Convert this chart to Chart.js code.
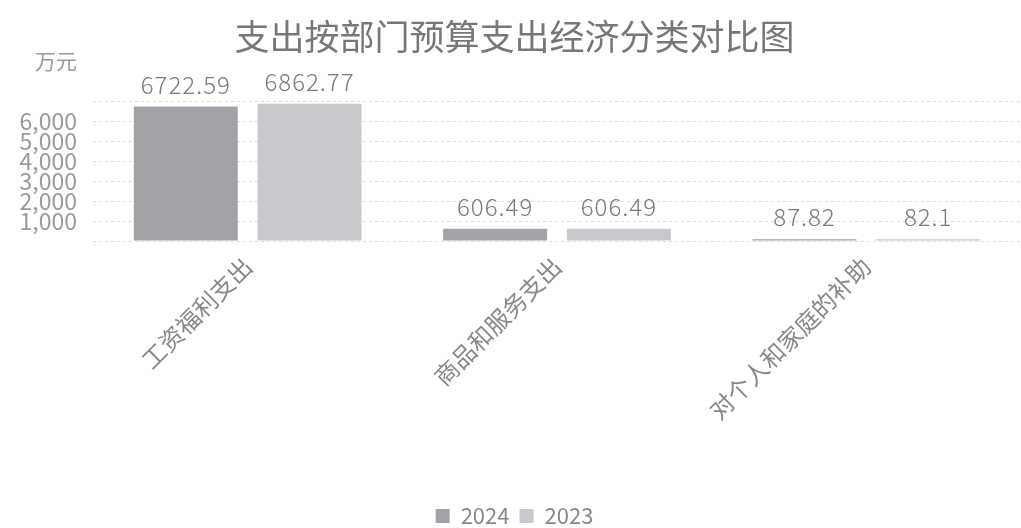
<!DOCTYPE html>
<html>
<head>
<meta charset="utf-8">
<script src="https://cdn.jsdelivr.net/npm/chart.js@4"></script>
<style>
  html, body { margin: 0; padding: 0; background: #fff; }
</style>
</head>
<body>
<canvas id="bar-chart" width="1021" height="528"></canvas>
<script>
const categories = ["工资福利支出", "商品和服务支出", "对个人和家庭的补助"];
const values2024 = [6722.59, 606.49, 87.82];
const values2023 = [6862.77, 606.49, 82.1];
const seriesNames = ["2024", "2023"];
const unitLabel = "万元";

const FONT = "'Noto Sans CJK SC', 'Noto Sans', sans-serif";

// values over the bars + unit text
const valueLabels = {
    id: 'valueLabels',
    afterLayout(chart) {
        // legend sits lower in the original
        chart.legend.top += 9;
        chart.legend.bottom += 9;
    },
    afterDatasetsDraw(chart) {
        const ctx = chart.ctx;
        ctx.save();
        ctx.font = "300 24px " + FONT;
        ctx.letterSpacing = "1px";
        ctx.fillStyle = "#7a7a7a";
        ctx.textAlign = "center";
        ctx.textBaseline = "bottom";
        chart.data.datasets.forEach((ds, i) => {
            chart.getDatasetMeta(i).data.forEach((bar, j) => {
                ctx.fillText(String(ds.data[j]), bar.x, bar.y - 10);
            });
        });
        ctx.font = "21px " + FONT;
        ctx.letterSpacing = "0px";
        ctx.fillStyle = "#999";
        ctx.textAlign = "left";
        ctx.textBaseline = "middle";
        ctx.fillText(unitLabel, 35, 61);
        ctx.restore();
    }
};

new Chart(document.getElementById("bar-chart"), {
    type: 'bar',
    data: {
        labels: categories,
        datasets: [{
            label: seriesNames[0],
            data: values2024,
            backgroundColor: "#a3a2a8",
            categoryPercentage: 0.8,
            barPercentage: 0.84
        }, {
            label: seriesNames[1],
            data: values2023,
            backgroundColor: "#cbc7ce",
            categoryPercentage: 0.8,
            barPercentage: 0.84
        }]
    },
    options: {
        responsive: false,
        animation: false,
        layout: { padding: { left: 8, right: 0, top: 0, bottom: 0 } },
        plugins: {
            title: {
                display: true,
                text: "支出按部门预算支出经济分类对比图",
                color: "#777",
                font: { family: FONT, size: 35, weight: 'normal' },
                padding: { top: 16, bottom: 43 }
            },
            legend: {
                position: 'bottom',
                labels: {
                    color: "#888",
                    font: { family: FONT, size: 22 },
                    boxWidth: 14,
                    boxHeight: 14,
                    padding: 10
                }
            },
            tooltip: { enabled: false }
        },
        scales: {
            x: {
                grid: { display: false },
                border: { display: false },
                ticks: {
                    color: "#888",
                    font: { family: FONT, size: 24 },
                    maxRotation: 45,
                    minRotation: 45,
                    autoSkip: false
                },
                afterFit(scale) { scale.height = 245; }
            },
            y: {
                min: 0,
                max: 7000,
                border: { display: false, dash: [3, 3] },
                grid: { color: "#dcdcdc", tickLength: 0 },
                ticks: {
                    stepSize: 1000,
                    autoSkip: false,
                    color: "#9a9a9a",
                    padding: 16,
                    font: { family: FONT, size: 23, lineHeight: 1 },
                    callback: (v) => (v === 0 || v === 7000) ? "" : v.toLocaleString("en-US")
                },
                afterFit(scale) { scale.width = 85; }
            }
        }
    },
    plugins: [valueLabels]
});
</script>
</body>
</html>
